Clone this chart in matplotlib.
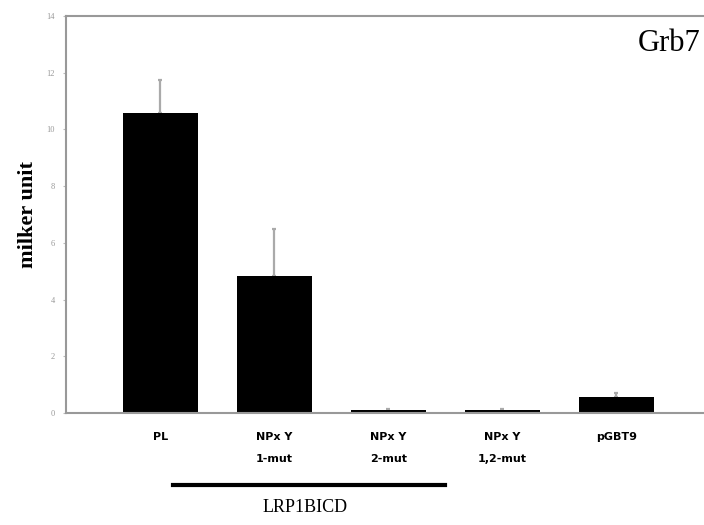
import numpy as np
import matplotlib.pyplot as plt

# data
labels = ['PL', 'NPx Y\n1-mut', 'NPx Y\n2-mut', 'NPx Y\n1,2-mut', 'pGBT9']
values = [10.58, 4.83, 0.10, 0.09, 0.56]
errors = [1.15, 1.65, 0.05, 0.04, 0.13]
yticks = [0, 2, 4, 6, 8, 10, 12, 14]

fig = plt.figure(figsize=(7.04, 5.25), dpi=100)
ax = fig.add_axes([0.094, 0.2133, 0.906, 0.7562])

x = np.arange(len(values))
ax.bar(x, values, width=0.66, color='black', zorder=2)
ax.errorbar(x, values, yerr=[np.zeros(len(errors)), errors], fmt='none',
            ecolor='#aaaaaa', elinewidth=1.6, capsize=1.2, capthick=1.6, zorder=1)

ax.set_xlim(-0.825, 4.77)
ax.set_ylim(0, 14)
ax.set_yticks(yticks)
ax.set_yticklabels([str(t) for t in yticks], fontsize=6, color='#999999',
                   family='Liberation Serif')
ax.tick_params(axis='y', length=2, color='#bbbbbb', width=0.8, pad=6)
ax.set_xticks(x)
ax.set_xticklabels(labels, fontsize=8, fontweight='bold', linespacing=2.5)
ax.tick_params(axis='x', length=0, pad=14)

for s in ['left', 'top', 'bottom']:
    ax.spines[s].set_color('#999999')
    ax.spines[s].set_linewidth(1.5)
ax.spines['right'].set_visible(False)

ax.set_ylabel('milker unit', family='Liberation Serif', fontweight='bold',
              fontsize=16, labelpad=6)

ax.text(0.995, 0.93, 'Grb7', transform=ax.transAxes, ha='right', va='center',
        family='Liberation Serif', fontsize=22)

# group bracket under the LRP1BICD constructs
fig.add_artist(plt.Line2D([173 / 704, 445 / 704], [1 - 485 / 525, 1 - 485 / 525],
                          color='black', linewidth=3))
fig.text(305 / 704, 1 - 507 / 525, 'LRP1BICD', ha='center', va='center',
         family='Liberation Serif', fontsize=13)

fig.savefig('out.png', dpi=100)
